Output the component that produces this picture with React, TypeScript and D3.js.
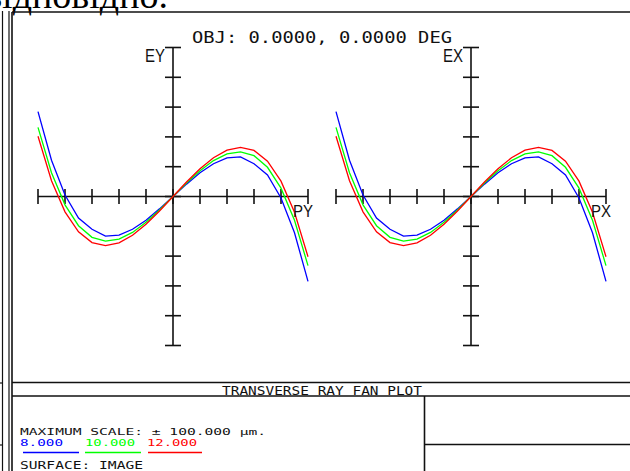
import React from "react";
import * as d3 from "d3";

// ---- data ----
const pupil = [-1, -0.9, -0.8, -0.7, -0.6, -0.5, -0.4, -0.3, -0.2, -0.1, 0, 0.1, 0.2, 0.3, 0.4, 0.5, 0.6, 0.7, 0.8, 0.9, 1];
const wl8 = [57.0, 24.3, 1.0, -14.4, -22.0, -26.6, -25.9, -22.0, -15.9, -8.3, 0, 8.3, 15.9, 22.0, 25.9, 26.6, 22.0, 14.4, -1.0, -24.3, -57.0];
const wl10 = [46.4, 15.9, -5.6, -19.6, -27.4, -30.0, -28.6, -24.1, -17.3, -9.0, 0, 9.0, 17.3, 24.1, 28.6, 30.0, 27.4, 19.6, 5.6, -15.9, -46.4];
const wl12 = [40.4, 10.6, -10.3, -23.7, -30.9, -33.0, -31.1, -26.0, -18.6, -9.7, 0, 9.7, 18.6, 26.0, 31.1, 33.0, 30.9, 23.7, 10.3, -10.6, -40.4];
const seriesNames = ["8.000", "10.000", "12.000"];
const seriesColors = ["#0000ff", "#00ff00", "#ff0000"];
const seriesValues = [wl8, wl10, wl12];
const xTicks = [-1, -0.8, -0.6, -0.4, -0.2, 0, 0.2, 0.4, 0.6, 0.8, 1];
const yTicks = [-100, -80, -60, -40, -20, 0, 20, 40, 60, 80, 100];
const panels = [
  { yLabel: "EY", xLabel: "PY", cx: 173 },
  { yLabel: "EX", xLabel: "PX", cx: 471 },
];
const titleText = "OBJ: 0.0000, 0.0000 DEG";
const plotTitle = "TRANSVERSE RAY FAN PLOT";
const scaleText = "MAXIMUM SCALE: \u00b1 100.000 \u00b5m.";
const surfaceText = "SURFACE: IMAGE";

const MONO = "'DejaVu Sans Mono', monospace";
const SANS = "'Liberation Sans', Arial, sans-serif";
const INK = "#111";

function Panel({ yLabel, xLabel, cx }: { yLabel: string; xLabel: string; cx: number }) {
  const x = d3.scaleLinear().domain([-1, 1]).range([cx - 135, cx + 135]);
  const y = d3.scaleLinear().domain([-100, 100]).range([345.5, 47.5]);
  const line = d3
    .line<number>()
    .x((_, i) => x(pupil[i]))
    .y((d) => y(d));
  return (
    <g>
      <line x1={x(-1)} x2={x(1)} y1={y(0)} y2={y(0)} stroke={INK} strokeWidth={1.6} />
      <line x1={x(0)} x2={x(0)} y1={y(-100)} y2={y(100)} stroke={INK} strokeWidth={1.6} />
      {xTicks.map((t) => (
        <line key={"x" + t} x1={x(t)} x2={x(t)} y1={y(0) - 7.5} y2={y(0) + 7.5} stroke={INK} strokeWidth={1.6} />
      ))}
      {yTicks.map((t) => (
        <line key={"y" + t} x1={x(0) - 8} x2={x(0) + 8} y1={y(t)} y2={y(t)} stroke={INK} strokeWidth={1.6} />
      ))}
      {seriesValues.map((vals, i) => (
        <path key={i} d={line(vals) || ""} fill="none" stroke={seriesColors[i]} strokeWidth={1.3} />
      ))}
      <text x={x(0) - 8} y={62} fontFamily={SANS} fontSize={18} textAnchor="end" fill={INK} textLength={20} lengthAdjust="spacingAndGlyphs">
        {yLabel}
      </text>
      <text x={x(1) - 15} y={217} fontFamily={SANS} fontSize={17} fill={INK} textLength={20} lengthAdjust="spacingAndGlyphs">
        {xLabel}
      </text>
    </g>
  );
}

export default function App() {
  const legendX = [20, 85, 147];
  const legendLen = [43, 50, 50];
  const underline = [[23, 79], [85, 141], [148, 202]];
  return (
    <svg width={630} height={471} style={{ position: "absolute", left: 0, top: 0, background: "#fff" }}>
      <rect x={0} y={0} width={630} height={471} fill="#fff" />
      {/* document fragment above the picture */}
      <text x={168} y={8} fontFamily="'Liberation Serif', 'DejaVu Serif', serif" fontSize={38} textAnchor="end" fill="#000">
        відповідно.
      </text>
      {/* left document borders */}
      <line x1={2.5} x2={2.5} y1={11} y2={471} stroke={INK} strokeWidth={1.2} />
      <line x1={9} x2={9} y1={11} y2={471} stroke={INK} strokeWidth={1.2} />
      <line x1={0} x2={2.5} y1={383} y2={383} stroke={INK} strokeWidth={1.2} />
      <line x1={0} x2={2.5} y1={445} y2={445} stroke={INK} strokeWidth={1.2} />
      {/* frame */}
      <line x1={12} x2={630} y1={12} y2={12} stroke={INK} strokeWidth={1.6} />
      <line x1={12} x2={12} y1={12} y2={471} stroke={INK} strokeWidth={1.6} />
      <line x1={12} x2={630} y1={382.5} y2={382.5} stroke={INK} strokeWidth={1.6} />
      <line x1={12} x2={630} y1={396} y2={396} stroke={INK} strokeWidth={1.6} />
      <line x1={424.5} x2={424.5} y1={396} y2={471} stroke={INK} strokeWidth={1.6} />
      <line x1={424.5} x2={630} y1={444.5} y2={444.5} stroke={INK} strokeWidth={1.6} />

      <text x={192} y={43} fontFamily={MONO} fontSize={15} fill={INK} textLength={260} lengthAdjust="spacingAndGlyphs">
        {titleText}
      </text>
      {panels.map((p) => (
        <Panel key={p.yLabel} {...p} />
      ))}
      <text x={222} y={395} fontFamily={MONO} fontSize={12.5} fill={INK} textLength={200} lengthAdjust="spacingAndGlyphs">
        {plotTitle}
      </text>
      <text x={20} y={434.5} fontFamily={MONO} fontSize={9.5} fill={INK} textLength={246} lengthAdjust="spacingAndGlyphs">
        {scaleText}
      </text>
      {seriesNames.map((n, i) => (
        <g key={n}>
          <text x={legendX[i]} y={445.5} fontFamily={MONO} fontSize={9.5} fill={seriesColors[i]} textLength={legendLen[i]} lengthAdjust="spacingAndGlyphs">
            {n}
          </text>
          <line x1={underline[i][0]} x2={underline[i][1]} y1={452.5} y2={452.5} stroke={seriesColors[i]} strokeWidth={1.5} />
        </g>
      ))}
      <text x={20} y={469} fontFamily={MONO} fontSize={11} fill={INK} textLength={123} lengthAdjust="spacingAndGlyphs">
        {surfaceText}
      </text>
    </svg>
  );
}
